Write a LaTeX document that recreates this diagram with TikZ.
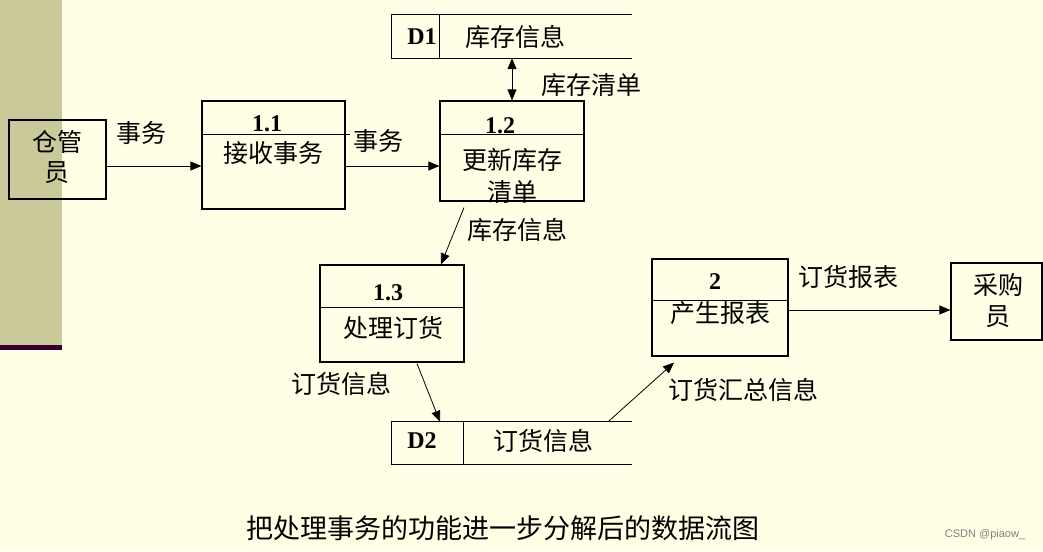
\documentclass[tikz,border=0pt]{standalone}
\usepackage{fontspec}
\setmainfont{Liberation Serif}
\newfontfamily\cjk{Noto Sans CJK SC}
\newfontfamily\wmfont{Liberation Sans}
\usetikzlibrary{arrows.meta}
\definecolor{paper}{RGB}{255,255,229}
\definecolor{strip}{RGB}{201,201,154}
\definecolor{bar}{RGB}{51,0,51}
\begin{document}
\begin{tikzpicture}[x=1pt,y=-1pt,
  box/.style={draw, line width=1.2pt, inner sep=0pt},
  flow/.style={-{Triangle[length=11pt,width=9pt]}, line width=0.8pt},
  lbl/.style={font=\cjk\fontsize{25}{25}\selectfont, inner sep=0pt},
  num/.style={font=\bfseries\fontsize{24}{24}\selectfont, inner sep=0pt}]

\fill[paper] (0,0) rectangle (1043,551);
\useasboundingbox (0,0) rectangle (1043,551);
\fill[strip] (0,0) rectangle (62,345);
\fill[bar] (0,345) rectangle (62,350);

% external entities and processes
\node[box, minimum width=97pt, minimum height=79pt] (clerk) at (57.5,159.5) {};
\node[box, minimum width=91pt, minimum height=77pt] (buyer) at (996.5,301.5) {};
\node[box, minimum width=143pt, minimum height=108pt] (p11) at (273.5,155) {};
\node[box, minimum width=144pt, minimum height=100pt] (p12) at (512,151) {};
\node[box, minimum width=144pt, minimum height=97pt] (p13) at (392,313.5) {};
\node[box, minimum width=136pt, minimum height=97pt] (p2) at (720,307.5) {};

\draw[line width=1.2pt] ([yshift=-34pt]p11.north west) -- ([yshift=-34pt,xshift=4pt]p11.north east);
\draw[line width=1.2pt] ([yshift=-34pt]p12.north west) -- ([yshift=-34pt]p12.north east);
\draw[line width=1.2pt] ([yshift=-43pt]p13.north west) -- ([yshift=-43pt]p13.north east);
\draw[line width=1.2pt] ([yshift=-42pt]p2.north west) -- ([yshift=-42pt]p2.north east);

% data stores
\node[minimum width=240pt, minimum height=43pt, inner sep=0pt] (D1) at (512,36.5) {};
\draw[line width=1.2pt] (D1.north east) -- (D1.north west) -- (D1.south west) -- (D1.south east);
\draw[line width=1.2pt] ([xshift=48pt]D1.north west) -- ([xshift=48pt]D1.south west);
\node[minimum width=240pt, minimum height=42pt, inner sep=0pt] (D2) at (512,443) {};
\draw[line width=1.2pt] (D2.north east) -- (D2.north west) -- (D2.south west) -- (D2.south east);
\draw[line width=1.2pt] ([xshift=72pt]D2.north west) -- ([xshift=72pt]D2.south west);

% texts
\node[lbl, align=center, font=\cjk\fontsize{25}{30}\selectfont] (tclerk) at (57,157) {仓管\\员};
\node[lbl, align=center, font=\cjk\fontsize{25}{31}\selectfont] (tbuyer) at (998,300.5) {采购\\员};
\node[num] (n11) at (267,124) {1.1};
\node[lbl] (t11) at (273,153) {接收事务};
\node[num] (n12) at (500,126) {1.2};
\node[lbl, align=center, font=\cjk\fontsize{25}{32}\selectfont] (t12) at (512,176) {更新库存\\清单};
\node[num] (n13) at (388,293) {1.3};
\node[lbl] (t13) at (393,328) {处理订货};
\node[num] (n2) at (715,282) {2};
\node[lbl] (t2) at (720,313) {产生报表};
\node[num] (nD1) at (422,37) {D1};
\node[lbl] (tD1) at (515,37) {库存信息};
\node[num] (nD2) at (422,441) {D2};
\node[lbl] (tD2) at (543,441) {订货信息};

% flows
\draw[flow] ([yshift=-6.5pt]clerk.east) -- ([yshift=-6.5pt]clerk.east -| p11.west);
\draw[flow] ([yshift=-11pt]p11.east) -- ([yshift=-11pt]p11.east -| p12.west);
\draw[{Triangle[length=11pt,width=9pt]}-{Triangle[length=11pt,width=9pt]}, line width=0.8pt] (D1.south) -- (p12.north);
\draw[flow] ([xshift=-48pt,yshift=-6pt]p12.south) -- ([xshift=49pt]p13.north);
\draw[flow] ([xshift=25pt,yshift=-1pt]p13.south) -- ([xshift=-72pt]D2.north);
\draw[flow] ([xshift=96pt]D2.north) -- ([xshift=-46pt,yshift=-6pt]p2.south);
\draw[flow] ([yshift=-2.5pt]p2.east) -- ([yshift=-2.5pt]p2.east -| buyer.west);

\node[lbl] (f1) at (141,133) {事务};
\node[lbl] (f2) at (378,141) {事务};
\node[lbl] (f3) at (591,85) {库存清单};
\node[lbl] (f4) at (517,230) {库存信息};
\node[lbl] (f5) at (341,384) {订货信息};
\node[lbl] (f6) at (743,390) {订货汇总信息};
\node[lbl] (f7) at (848,277) {订货报表};

\node[lbl, font=\cjk\fontsize{27}{27}\selectfont] (caption) at (503,528) {把处理事务的功能进一步分解后的数据流图};
\node[inner sep=0pt, text=gray, font=\wmfont\fontsize{11}{11}\selectfont] (mark) at (985,535) {CSDN @piaow\_};

\end{tikzpicture}
\end{document}
